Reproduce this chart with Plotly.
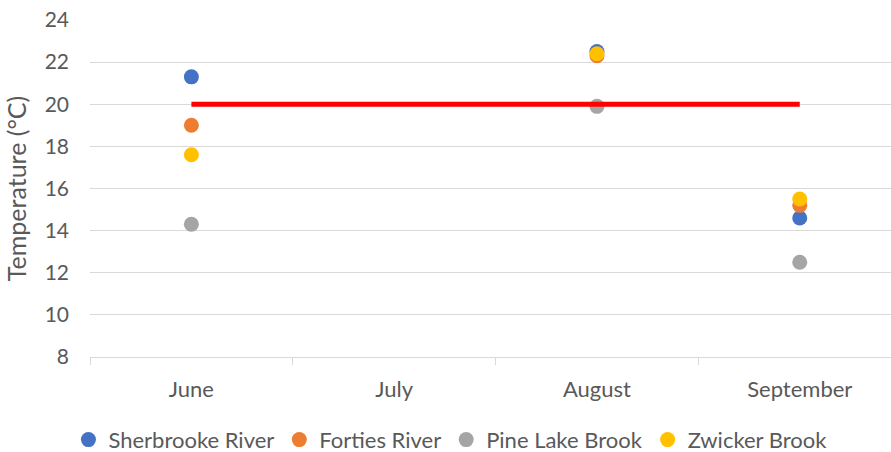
import plotly.graph_objects as go

months = ["June", "July", "August", "September"]
sherbrooke = [21.3, None, 22.5, 14.6]
forties = [19.0, None, 22.3, 15.2]
pine_lake = [14.3, None, 19.9, 12.5]
zwicker = [17.6, None, 22.4, 15.5]
threshold = [20, 20, 20, 20]

series = [
    ("Sherbrooke River", sherbrooke, "#4472C4"),
    ("Forties River", forties, "#ED7D31"),
    ("Pine Lake Brook", pine_lake, "#A5A5A5"),
    ("Zwicker Brook", zwicker, "#FFC000"),
]

fig = go.Figure()
for name, vals, col in series:
    fig.add_trace(go.Scatter(x=months, y=vals, mode="markers", name=name,
                             marker=dict(color=col, size=15)))
fig.add_trace(go.Scatter(x=months, y=threshold, mode="lines", showlegend=False,
                         line=dict(color="#FF0000", width=5)))

font_family = "Lato, Calibri, sans-serif"
fig.update_layout(
    width=891, height=452,
    margin=dict(l=90, r=0, t=20, b=95),
    plot_bgcolor="white", paper_bgcolor="white",
    font=dict(family=font_family, size=22, color="#595959"),
    legend=dict(orientation="h", x=0.45, xanchor="center",
                yref="container", y=0.027, yanchor="middle",
                font=dict(size=22, color="#595959"), itemwidth=30,
                traceorder="normal"),
    xaxis=dict(type="category", categoryorder="array", categoryarray=months,
               range=[-0.5, 3.45], showgrid=False, showline=True, automargin=False,
               linecolor="#D9D9D9", linewidth=1, ticks="outside",
               tickson="boundaries", ticklen=7, tickcolor="#D9D9D9",
               tickfont=dict(size=22, color="#595959"), zeroline=False,
               ticklabelstandoff=13),
    yaxis=dict(range=[8, 24], dtick=2, showgrid=True, gridcolor="#D9D9D9",
               gridwidth=1, zeroline=False, showline=False, automargin=False,
               tickfont=dict(size=21, color="#595959"),
               title=dict(text="Temperature (°C)", font=dict(size=25, color="#595959"),
                          standoff=10),
               ticklabelstandoff=20),
)
fig.write_html("out.html", config={"displayModeBar": False},
               post_script="document.body.style.margin='0';document.body.style.overflow='hidden';")
